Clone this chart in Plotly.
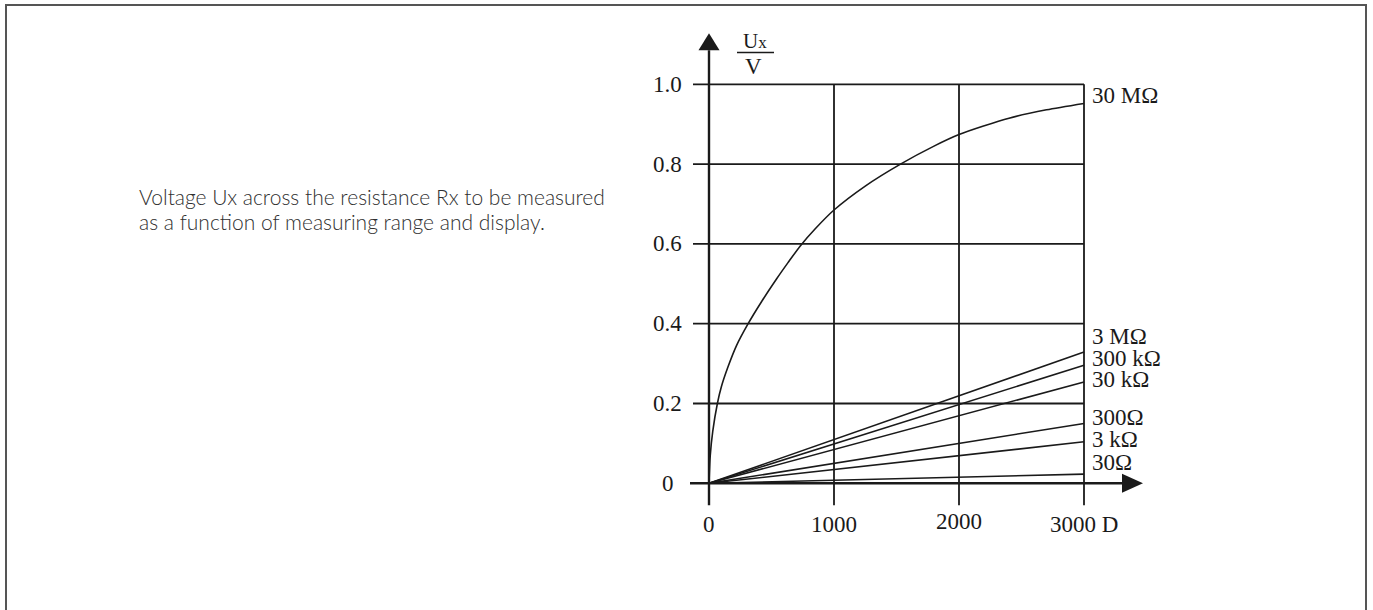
import plotly.graph_objects as go

# ---------------- data ----------------
display_ticks = [0, 1000, 2000, 3000]
display_ticklabels = ['0', '1000', '2000', '3000 D']
u_ticks = [0, 0.2, 0.4, 0.6, 0.8, 1.0]
u_ticklabels = ['0', '0.2', '0.4', '0.6', '0.8', '1.0']

curve_label = '30 MΩ'
curve_display = [0, 10, 30, 67, 100, 150, 220, 313, 420, 540, 632, 730, 850, 1000,
                 1250, 1532, 1800, 2000, 2400, 2700, 3000]
curve_u = [0, 0.07, 0.13, 0.20, 0.243, 0.29, 0.345, 0.40, 0.455, 0.512, 0.553, 0.595, 0.638, 0.685,
           0.745, 0.80, 0.845, 0.874, 0.915, 0.936, 0.952]

line_labels = ['3 MΩ', '300 kΩ', '30 kΩ', '300Ω', '3 kΩ', '30Ω']
line_display = [0, 3000]
line_end_u = [0.329, 0.296, 0.254, 0.150, 0.104, 0.023]

caption_lines = ['Voltage Ux across the resistance Rx to be measured',
                 'as a function of measuring range and display.']

# ---------------- layout geometry ----------------
W, H = 1373, 610
ML, MR, MT, MB = 688, 230, 32, 103
PW, PH = W - ML - MR, H - MT - MB
X_PER_PX = 8.0            # display units per pixel
Y_PER_PX = 1 / 399.0      # volts per pixel
x_lo = -21 * X_PER_PX
x_hi = x_lo + PW * X_PER_PX
y_hi = 451.3 * Y_PER_PX
y_lo = y_hi - PH * Y_PER_PX

def px_x(px):
    return (px - ML) / PW

def px_y(py):
    return 1 - (py - MT) / PH

SERIF = 'Liberation Serif'
INK = '#1a1a1a'

fig = go.Figure()

# data curves
fig.add_trace(go.Scatter(x=curve_display, y=curve_u, mode='lines',
                         line=dict(color=INK, width=1.6, shape='spline', smoothing=0.7),
                         name=curve_label, hoverinfo='skip'))
for lab, yend in zip(line_labels, line_end_u):
    fig.add_trace(go.Scatter(x=line_display, y=[0, yend], mode='lines',
                             line=dict(color=INK, width=1.6), name=lab, hoverinfo='skip'))

shapes = []
grid_w = 1.8
tick_ext_x = -16 * X_PER_PX
tick_ext_y = -22 * Y_PER_PX
xmax = max(display_ticks)
ymax = max(u_ticks)
# horizontal grid lines
for v in u_ticks[1:]:
    shapes.append(dict(type='line', xref='x', yref='y', x0=tick_ext_x, x1=xmax, y0=v, y1=v,
                       line=dict(color=INK, width=grid_w), layer='below'))
# vertical grid lines
for v in display_ticks[1:]:
    shapes.append(dict(type='line', xref='x', yref='y', x0=v, x1=v, y0=tick_ext_y, y1=ymax,
                       line=dict(color=INK, width=grid_w), layer='below'))
# axes with arrows
y_arrow_base = ymax + 34 * Y_PER_PX
y_arrow_tip = ymax + 51 * Y_PER_PX
x_arrow_base = xmax + 38 * X_PER_PX
x_arrow_tip = xmax + 59 * X_PER_PX
shapes.append(dict(type='line', xref='x', yref='y', x0=0, x1=0, y0=tick_ext_y, y1=y_arrow_base,
                   line=dict(color=INK, width=2.4)))
shapes.append(dict(type='line', xref='x', yref='y', x0=-19 * X_PER_PX, x1=x_arrow_base, y0=0, y1=0,
                   line=dict(color=INK, width=2.4)))
hw = 10.5 * X_PER_PX
shapes.append(dict(type='path', xref='x', yref='y',
                   path=f'M {-hw} {y_arrow_base} L {hw} {y_arrow_base} L 0 {y_arrow_tip} Z',
                   fillcolor=INK, line=dict(color=INK, width=0)))
hh = 9.5 * Y_PER_PX
shapes.append(dict(type='path', xref='x', yref='y',
                   path=f'M {x_arrow_base} {-hh} L {x_arrow_base} {hh} L {x_arrow_tip} 0 Z',
                   fillcolor=INK, line=dict(color=INK, width=0)))
# page frame
shapes.append(dict(type='rect', xref='paper', yref='paper',
                   x0=px_x(6), x1=px_x(1366), y0=px_y(625), y1=px_y(5),
                   line=dict(color='#555555', width=2), fillcolor='rgba(0,0,0,0)'))

annotations = []
tick_font = dict(family=SERIF, size=23, color=INK)
# y tick labels
for v, t in zip(u_ticks, u_ticklabels):
    shift = -33 if v == 0 else -25
    annotations.append(dict(x=0, y=v, xref='x', yref='y', text=t, showarrow=False,
                            xanchor='right', yanchor='middle', xshift=shift, font=tick_font))
# x tick labels
for v, t in zip(display_ticks, display_ticklabels):
    annotations.append(dict(x=v, y=0, xref='x', yref='y', text=t, showarrow=False,
                            xanchor='center', yanchor='middle', yshift=-41 if v != 2000 else -38,
                            font=tick_font))
# series labels at right
label_y = [0.367, 0.314, 0.261, 0.166, 0.111, 0.051]
annotations.append(dict(x=xmax, y=0.973, xref='x', yref='y', text=curve_label, showarrow=False,
                        xanchor='left', yanchor='middle', xshift=6, font=tick_font))
for lab, ly in zip(line_labels, label_y):
    annotations.append(dict(x=xmax, y=ly, xref='x', yref='y', text=lab, showarrow=False,
                            xanchor='left', yanchor='middle', xshift=6, font=tick_font))
# y axis title as fraction Ux / V
annotations.append(dict(x=px_x(755), y=px_y(41), xref='paper', yref='paper',
                        text='U<span style="font-size:17px">x</span>',
                        showarrow=False, xanchor='center', yanchor='middle',
                        font=dict(family=SERIF, size=21, color=INK)))
annotations.append(dict(x=px_x(753.5), y=px_y(66.5), xref='paper', yref='paper', text='V',
                        showarrow=False, xanchor='center', yanchor='middle',
                        font=dict(family=SERIF, size=23, color=INK)))
shapes.append(dict(type='line', xref='paper', yref='paper', x0=px_x(737), x1=px_x(774),
                   y0=px_y(52.5), y1=px_y(52.5), line=dict(color=INK, width=1.5)))
# caption (two lines)
for line_text, cy in zip(caption_lines, [197, 221.7]):
    annotations.append(dict(x=px_x(137), y=px_y(cy), xref='paper', yref='paper', text=line_text,
                            showarrow=False, xanchor='left', yanchor='middle', align='left',
                            font=dict(family='Lato', size=21, color='#303030', weight=300)))

fig.update_layout(
    width=W, height=H,
    margin=dict(l=ML, r=MR, t=MT, b=MB, pad=0),
    paper_bgcolor='white', plot_bgcolor='white',
    showlegend=False,
    xaxis=dict(range=[x_lo, x_hi], visible=False, fixedrange=True),
    yaxis=dict(range=[y_lo, y_hi], visible=False, fixedrange=True),
    shapes=shapes, annotations=annotations,
)

fig.write_html('out.html', config={'displayModeBar': False},
               post_script="document.body.style.margin='0';")
